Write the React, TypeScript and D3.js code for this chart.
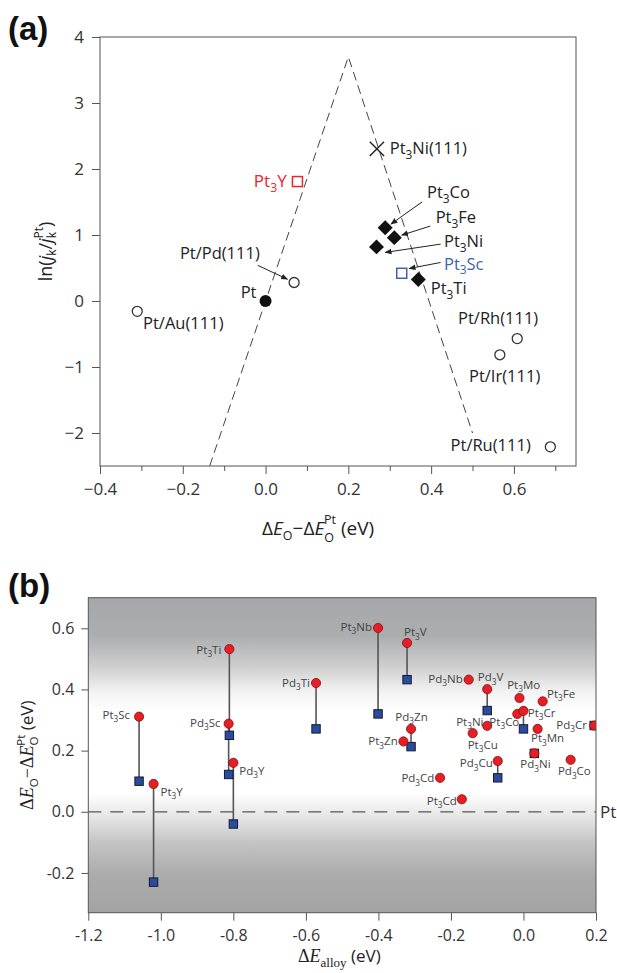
import React, { useEffect, useRef } from "react";
import * as d3 from "d3";

// ---------- Panel (a) data ----------
const aNames = ["Pt", "Pt/Pd(111)", "Pt/Au(111)", "Pt3Y", "Pt3Ni(111)", "Pt3Co", "Pt3Fe", "Pt3Ni", "Pt3Sc", "Pt3Ti", "Pt/Rh(111)", "Pt/Ir(111)", "Pt/Ru(111)"];
const aDeltaE = [0, 0.069, -0.31, 0.077, 0.269, 0.289, 0.311, 0.268, 0.329, 0.369, 0.608, 0.566, 0.688];
const aLnJ = [0, 0.28, -0.157, 1.81, 2.305, 1.11, 0.96, 0.82, 0.42, 0.325, -0.57, -0.815, -2.21];
const aKind = ["filled", "open", "open", "squareRed", "cross", "diamond", "diamond", "diamond", "squareBlue", "diamond", "open", "open", "open"];
// volcano guide lines
const volcanoX = [-0.135, 0.2, 0.5];
const volcanoY = [-2.5, 3.7, -2.0];
const aXTicks = [-0.4, -0.2, 0, 0.2, 0.4, 0.6];
const aXMinor = [-0.3, -0.1, 0.1, 0.3, 0.5, 0.7];
const aYTicks = [-2, -1, 0, 1, 2, 3, 4];

// ---------- Panel (b) data ----------
const bNames = ["Pt3Sc", "Pt3Y", "Pt3Ti", "Pd3Sc", "Pd3Y", "Pd3Ti", "Pt3Nb", "Pt3V", "Pt3Zn", "Pd3Zn", "Pd3Cd", "Pd3Nb", "Pt3Cd", "Pt3Cu", "Pd3V", "Pt3Ni", "Pd3Cu", "Pt3Co", "Pt3Mo", "Pt3Cr", "Pd3Ni", "Pt3Mn", "Pt3Fe", "Pd3Co", "Pd3Cr"];
const bAlloyE = [-1.06, -1.02, -0.811, -0.813, -0.80, -0.572, -0.401, -0.321, -0.331, -0.31, -0.23, -0.151, -0.17, -0.14, -0.10, -0.10, -0.071, -0.017, -0.011, 0.0, 0.03, 0.039, 0.053, 0.13, 0.195];
const bSurface = [0.311, 0.091, 0.532, 0.288, 0.16, 0.421, 0.601, 0.552, 0.23, 0.271, 0.111, 0.432, 0.041, 0.257, 0.401, 0.281, 0.166, 0.32, 0.372, 0.33, 0.191, 0.271, 0.361, 0.17, 0.282];
const bBulk: (number | null)[] = [0.10, -0.23, 0.25, 0.122, -0.04, 0.271, 0.32, 0.432, null, 0.213, null, null, null, null, 0.331, null, 0.111, null, null, 0.271, 0.191, null, null, null, 0.282];
const bXTicks = [-1.2, -1.0, -0.8, -0.6, -0.4, -0.2, 0.0, 0.2];
const bYTicks = [-0.2, 0.0, 0.2, 0.4, 0.6];

// ---------- layout (annotation placement, not data) ----------
const aLabelPos: Record<string, [number, number, string]> = {
  "Pt": [-0.022, 0.04, "end"],
  "Pt/Pd(111)": [-0.207, 0.634, "start"],
  "Pt/Au(111)": [-0.296, -0.43, "start"],
  "Pt3Y": [0.051, 1.725, "end"],
  "Pt3Ni(111)": [0.30, 2.23, "start"],
  "Pt3Co": [0.39, 1.556, "start"],
  "Pt3Fe": [0.411, 1.185, "start"],
  "Pt3Ni": [0.431, 0.82, "start"],
  "Pt3Sc": [0.431, 0.477, "start"],
  "Pt3Ti": [0.399, 0.10, "start"],
  "Pt/Rh(111)": [0.465, -0.354, "start"],
  "Pt/Ir(111)": [0.4915, -1.23, "start"],
  "Pt/Ru(111)": [0.447, -2.27, "start"],
};
const aArrows: [number, number, number, number][] = [
  [-0.019, 0.54, 0.053, 0.33],
  [0.378, 1.50, 0.303, 1.166],
  [0.398, 1.135, 0.329, 0.998],
  [0.423, 0.862, 0.289, 0.736],
  [0.423, 0.584, 0.347, 0.492],
];
const bLabelOff: Record<string, [number, number, string]> = {
  Pt3Sc: [-9, 2, "end"], Pt3Ti: [-8, 4.5, "end"], Pd3Sc: [-8, 3, "end"], Pd3Ti: [-6, 4, "end"],
  Pt3Y: [7, 11.7, "start"], Pd3Y: [6, 12, "start"], Pt3Nb: [-6, 3, "end"], Pt3V: [-3, -6.6, "start"],
  Pd3Nb: [-6, 3.3, "end"], Pd3V: [-9.4, -8, "start"], Pt3Mo: [-12.3, -9.3, "start"], Pt3Fe: [4.4, -3.7, "start"],
  Pt3Cr: [4.3, 5.7, "start"], Pt3Co: [2, 11.7, "end"], Pt3Ni: [-3.7, -0.3, "end"], Pt3Cu: [-5, 15.7, "start"],
  Pt3Mn: [-6.6, 13.3, "start"], Pd3Cr: [-7.3, 3.3, "end"], Pd3Zn: [-15.7, -8.3, "start"], Pt3Zn: [-5.7, 4, "end"],
  Pd3Cu: [-5, 6.3, "end"], Pd3Ni: [-14, 15, "start"], Pd3Co: [-12.7, 15.7, "start"], Pd3Cd: [-5.7, 4.6, "end"],
  Pt3Cd: [-5, 5.4, "end"],
};

const W = 617, H = 973;
const FONT = "'Open Sans', 'Noto Sans', sans-serif";
const SERIF = "'Liberation Serif', 'DejaVu Serif', serif";
const A = { left: 100, right: 576, top: 37, bottom: 466 };
const B = { left: 88.3, right: 596, top: 597.7, bottom: 912.7 };

const ax = d3.scaleLinear().domain([-0.4, 0.75]).range([A.left, A.right]);
const ay = d3.scaleLinear().domain([-2.5, 4]).range([A.bottom, A.top]);
const bx = d3.scaleLinear().domain([-1.2, 0.2]).range([B.left, B.right]);
const by = d3.scaleLinear().domain([-0.33, 0.7]).range([B.bottom, B.top]);

function chem(name: string, fs: number) {
  const m = name.match(/^(P[td])3(.*)$/);
  if (!m) return <tspan>{name}</tspan>;
  return (
    <>
      <tspan>{m[1]}</tspan>
      <tspan fontSize={fs * 0.72} dy={fs * 0.3}>3</tspan>
      <tspan dy={-fs * 0.3}>{m[2]}</tspan>
    </>
  );
}

export default function App() {
  const axA = useRef<SVGGElement>(null);
  const axAm = useRef<SVGGElement>(null);
  const ayA = useRef<SVGGElement>(null);
  const axB = useRef<SVGGElement>(null);
  const ayB = useRef<SVGGElement>(null);

  useEffect(() => {
    const style = (g: any, fs: number) => {
      g.select(".domain").remove();
      g.attr("font-family", FONT).attr("font-size", fs);
      g.selectAll("line").attr("stroke", "#555").attr("stroke-width", 1);
      g.selectAll("text").attr("fill", "#333");
    };
    const fA = d3.format(".1f");
    style(d3.select(axA.current).call(d3.axisBottom(ax).tickValues(aXTicks).tickSize(8).tickPadding(9).tickFormat((d: any) => fA(d))), 17);
    style(d3.select(axAm.current).call(d3.axisBottom(ax).tickValues(aXMinor).tickSize(5).tickFormat(() => "")), 17);
    style(d3.select(ayA.current).call(d3.axisLeft(ay).tickValues(aYTicks).tickSize(8).tickPadding(8).tickFormat(d3.format("d") as any)), 17);
    const fB = (d: any) => d3.format(".1f")(d).replace("−", "-");
    style(d3.select(axB.current).call(d3.axisBottom(bx).tickValues(bXTicks).tickSize(8).tickPadding(9).tickFormat(fB)), 16);
    style(d3.select(ayB.current).call(d3.axisLeft(by).tickValues(bYTicks).tickSize(7).tickPadding(7).tickFormat(fB)), 16);
  }, []);

  const volcano = d3.line<number>().x((_, i) => ax(volcanoX[i])).y((_, i) => ay(volcanoY[i]));
  const diamond = d3.symbol().type(d3.symbolSquare).size(112)();
  const cross = d3.symbol().type(d3.symbolX).size(135)();

  return (
    <svg width={W} height={H} style={{ position: "absolute", left: 0, top: 0, background: "#fff" }} fontFamily={FONT}>
      <defs>
        <marker id="arr" viewBox="0 0 10 10" refX="9" refY="5" markerWidth="7" markerHeight="7" orient="auto-start-reverse" markerUnits="userSpaceOnUse">
          <path d="M0,1 L10,5 L0,9 Z" fill="#222" />
        </marker>
        <linearGradient id="bg" x1="0" y1="0" x2="0" y2="1">
          <stop offset="0" stopColor="#a6a7a9" />
          <stop offset="0.12" stopColor="#acadaf" />
          <stop offset="0.22" stopColor="#cfcfd0" />
          <stop offset="0.30" stopColor="#f3f3f3" />
          <stop offset="0.36" stopColor="#ffffff" />
          <stop offset="0.62" stopColor="#ffffff" />
          <stop offset="0.70" stopColor="#e4e4e4" />
          <stop offset="0.78" stopColor="#c3c3c3" />
          <stop offset="0.88" stopColor="#ababab" />
          <stop offset="1" stopColor="#a4a4a4" />
        </linearGradient>
        <clipPath id="clipB">
          <rect x={B.left} y={B.top} width={B.right - B.left} height={B.bottom - B.top} />
        </clipPath>
      </defs>

      {/* ================= Panel (a) ================= */}
      <text x={8} y={40} fontFamily="'Liberation Sans', Arial, sans-serif" fontWeight="bold" fontSize={33} fill="#111">(a)</text>
      <rect x={A.left} y={A.top} width={A.right - A.left} height={A.bottom - A.top} fill="none" stroke="#555" strokeWidth={1} />
      <g ref={axA} transform={`translate(0,${A.bottom})`} />
      <g ref={axAm} transform={`translate(0,${A.bottom})`} />
      <g ref={ayA} transform={`translate(${A.left},0)`} />
      <path d={volcano(volcanoX) || ""} fill="none" stroke="#444" strokeWidth={1} strokeDasharray="9 5" />

      {aArrows.map((a, i) => (
        <line key={i} x1={ax(a[0])} y1={ay(a[1])} x2={ax(a[2])} y2={ay(a[3])} stroke="#222" strokeWidth={1} markerEnd="url(#arr)" />
      ))}

      {aNames.map((n, i) => {
        const x = ax(aDeltaE[i]), y = ay(aLnJ[i]);
        const k = aKind[i];
        if (k === "filled") return <circle key={n} cx={x} cy={y} r={6} fill="#111" />;
        if (k === "open") return <circle key={n} cx={x} cy={y} r={5} fill="#fff" stroke="#333" strokeWidth={1.3} />;
        if (k === "squareRed") return <rect key={n} x={x - 5} y={y - 5} width={10} height={10} fill="#fff" stroke="#e8262b" strokeWidth={1.5} />;
        if (k === "squareBlue") return <rect key={n} x={x - 5} y={y - 5} width={10} height={10} fill="#fff" stroke="#3f5fb5" strokeWidth={1.5} />;
        if (k === "cross") return <path key={n} d={cross || ""} transform={`translate(${x},${y})`} stroke="#222" strokeWidth={1.4} fill="none" />;
        return <path key={n} d={diamond || ""} transform={`translate(${x},${y}) rotate(45)`} fill="#111" />;
      })}

      {aNames.map((n) => {
        const p = aLabelPos[n];
        const col = n === "Pt3Y" ? "#e8262b" : n === "Pt3Sc" ? "#3f5fb5" : "#222";
        const fs = n === "Pt3Y" ? 17 : 16.5;
        return (
          <text key={n} x={ax(p[0])} y={ay(p[1])} textAnchor={p[2] as any} fontSize={fs} fill={col}>
            {chem(n, fs)}
          </text>
        );
      })}

      {/* axis titles (a) */}
      <text x={262} y={535} fontSize={19} fill="#222">
        <tspan>Δ</tspan><tspan fontStyle="italic">E</tspan>
        <tspan fontSize={12.5} dy={5}>O</tspan>
        <tspan dy={-5}>−Δ</tspan><tspan fontStyle="italic">E</tspan>
        <tspan fontSize={12.5} dy={6.5}>O</tspan>
        <tspan fontSize={12.5} dx={-10} dy={-17.5}>Pt</tspan>
        <tspan dy={11}> (eV)</tspan>
      </text>
      <text transform={`translate(52,${(A.top + A.bottom) / 2}) rotate(-90)`} textAnchor="middle" fontSize={18} fill="#222">
        <tspan>ln(</tspan><tspan fontStyle="italic">j</tspan>
        <tspan fontSize={12} dy={4}>k</tspan>
        <tspan dy={-4}>/</tspan><tspan fontStyle="italic">j</tspan>
        <tspan fontSize={12} dy={4}>k</tspan>
        <tspan fontSize={12} dx={-6.5} dy={-13}>Pt</tspan>
        <tspan dy={9}>)</tspan>
      </text>

      {/* ================= Panel (b) ================= */}
      <text x={8} y={597} fontFamily="'Liberation Sans', Arial, sans-serif" fontWeight="bold" fontSize={33} fill="#111">(b)</text>
      <rect x={B.left} y={B.top} width={B.right - B.left} height={B.bottom - B.top} fill="url(#bg)" />
      <line x1={B.left} x2={B.right} y1={by(0)} y2={by(0)} stroke="#555" strokeWidth={1.2} strokeDasharray="13 9" />
      <text x={B.right + 4} y={by(0) + 6} fontSize={17} fill="#333">Pt</text>

      <g clipPath="url(#clipB)">
        {bNames.map((n, i) => {
          const b = bBulk[i];
          if (b === null) return null;
          return <line key={n + "l"} x1={bx(bAlloyE[i])} x2={bx(bAlloyE[i])} y1={by(bSurface[i])} y2={by(b)} stroke="#555" strokeWidth={1.6} />;
        })}
        {bNames.map((n, i) => {
          const b = bBulk[i];
          if (b === null) return null;
          return <rect key={n + "s"} x={bx(bAlloyE[i]) - 4.2} y={by(b) - 4.2} width={8.4} height={8.4} fill="#2b4c9b" stroke="#111a35" strokeWidth={1} />;
        })}
        {bNames.map((n, i) => (
          <circle key={n + "c"} cx={bx(bAlloyE[i])} cy={by(bSurface[i])} r={4.6} fill="#e51f25" stroke="#8a0c0c" strokeWidth={0.8} />
        ))}
      </g>

      {bNames.map((n, i) => {
        const o = bLabelOff[n];
        return (
          <text key={n + "t"} x={bx(bAlloyE[i]) + o[0]} y={by(bSurface[i]) + o[1]} textAnchor={o[2] as any} fontSize={11.5} fill="#444">
            {chem(n, 11.5)}
          </text>
        );
      })}

      <rect x={B.left} y={B.top} width={B.right - B.left} height={B.bottom - B.top} fill="none" stroke="#555" strokeWidth={1} />
      <g ref={axB} transform={`translate(0,${B.bottom})`} />
      <g ref={ayB} transform={`translate(${B.left},0)`} />

      {/* axis titles (b) */}
      <text x={298} y={962} fontSize={17} fill="#222">
        <tspan fontFamily={SERIF} fontSize={18}>Δ</tspan>
        <tspan fontFamily={SERIF} fontSize={18} fontStyle="italic">E</tspan>
        <tspan fontFamily={SERIF} fontSize={13} dy={5}>alloy</tspan>
        <tspan dy={-5}> (eV)</tspan>
      </text>
      <text transform={`translate(33,${(B.top + B.bottom) / 2}) rotate(-90)`} textAnchor="middle" fontSize={17} fill="#222">
        <tspan fontFamily={SERIF} fontSize={18}>Δ</tspan>
        <tspan fontFamily={SERIF} fontSize={18} fontStyle="italic">E</tspan>
        <tspan fontSize={11.5} dy={5}>O</tspan>
        <tspan fontFamily={SERIF} fontSize={18} dy={-5}>−Δ</tspan>
        <tspan fontFamily={SERIF} fontSize={18} fontStyle="italic">E</tspan>
        <tspan fontSize={11.5} dy={5}>O</tspan>
        <tspan fontSize={11.5} dx={-9} dy={-13}>Pt</tspan>
        <tspan dy={8}> (eV)</tspan>
      </text>
    </svg>
  );
}
